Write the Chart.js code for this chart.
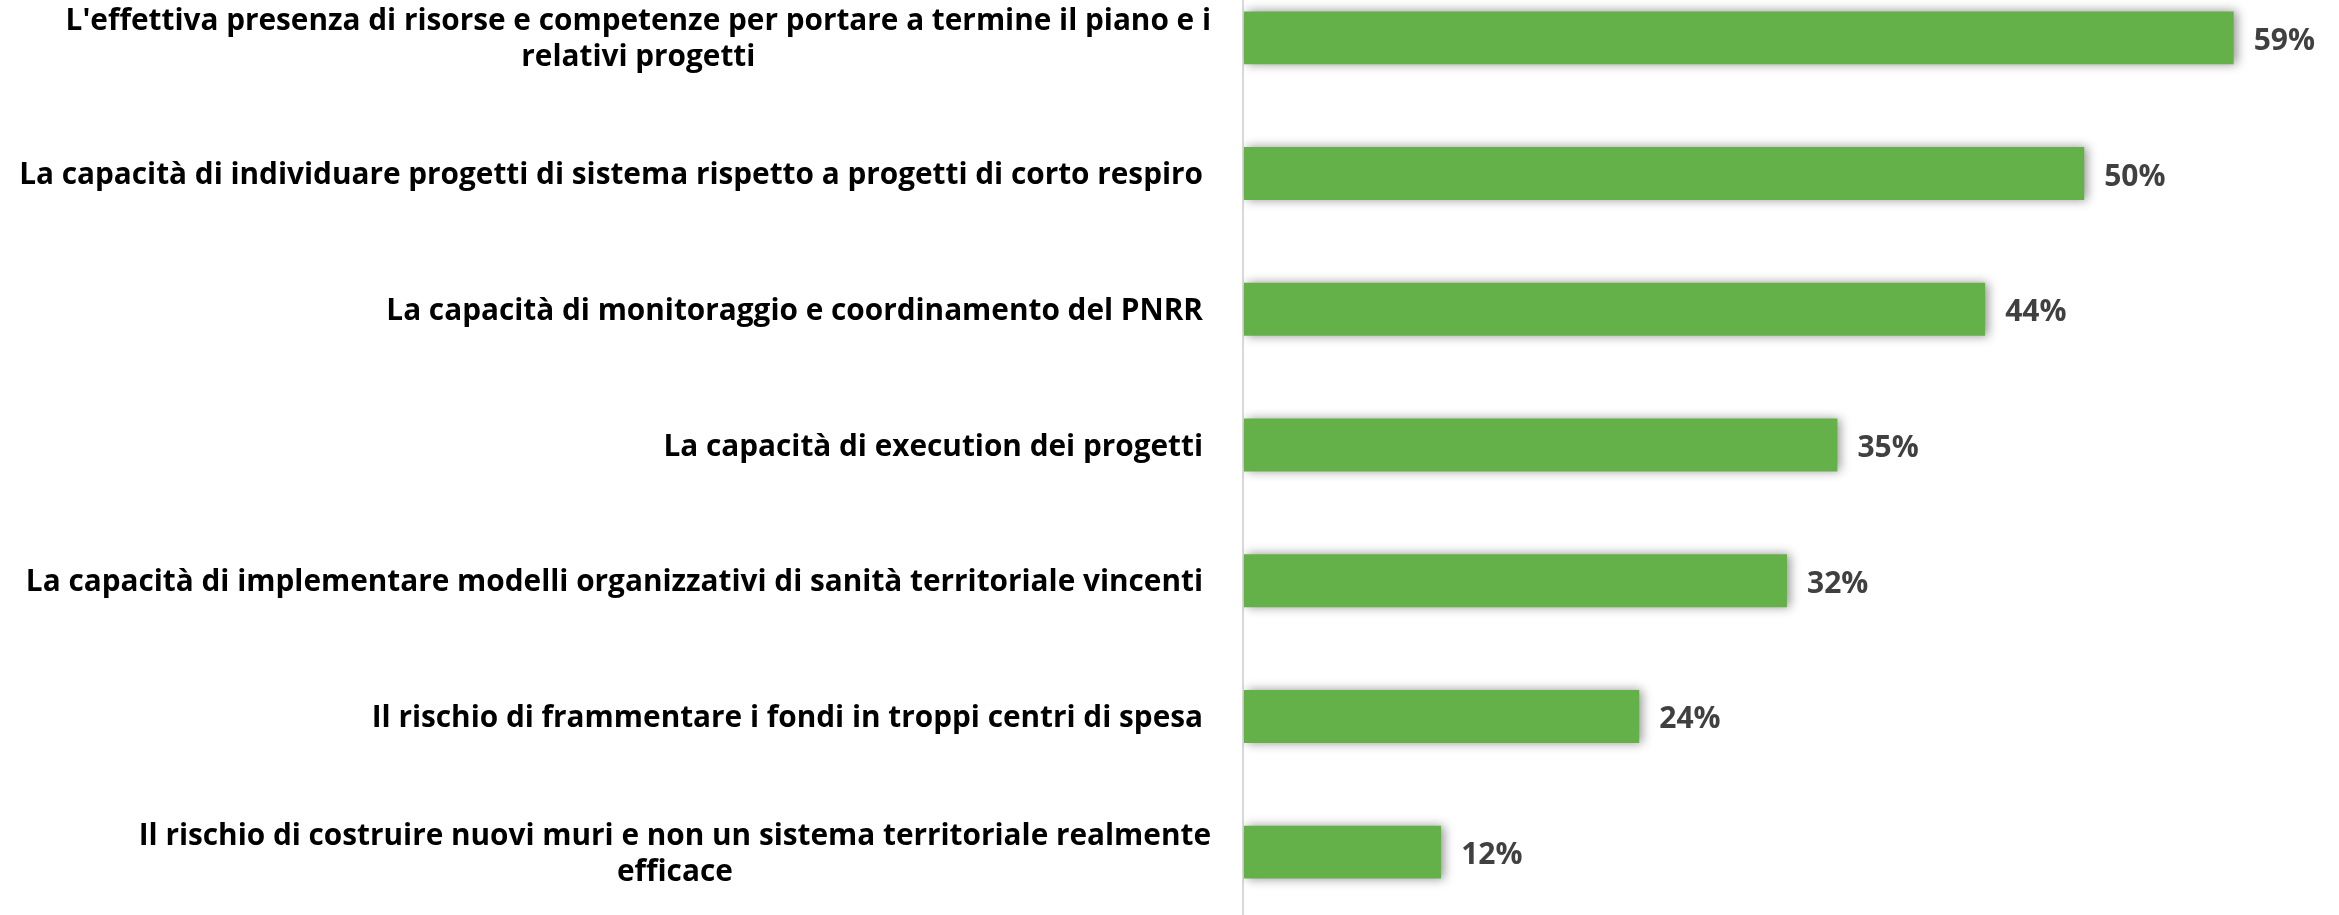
<!DOCTYPE html>
<html><head><meta charset="utf-8">
<script src="https://cdn.jsdelivr.net/npm/chart.js@4.4.1/dist/chart.umd.min.js"></script>
<style>
html,body{margin:0;padding:0;background:#fff;overflow:hidden;width:2339px;height:915px;}
#wrap{position:absolute;left:0;top:-30px;width:2339px;height:950px;}
</style></head><body>
<div id="wrap"><canvas id="c"></canvas></div>
<script>
const categories = [
  ["L'effettiva presenza di risorse e competenze per portare a termine il piano e i", "relativi progetti"],
  ["La capacità di individuare progetti di sistema rispetto a progetti di corto respiro"],
  ["La capacità di monitoraggio e coordinamento del PNRR"],
  ["La capacità di execution dei progetti"],
  ["La capacità di implementare modelli organizzativi di sanità territoriale vincenti"],
  ["Il rischio di frammentare i fondi in troppi centri di spesa"],
  ["Il rischio di costruire nuovi muri e non un sistema territoriale realmente", "efficace"]
];
const values = [59.0, 50.1, 44.2, 35.4, 32.4, 23.6, 11.8];
const valueLabels = ["59%", "50%", "44%", "35%", "32%", "24%", "12%"];

const FONT = '"Open Sans", "Lato", sans-serif';

const shadowPlugin = {
  id: 'barShadow',
  beforeDatasetsDraw(chart) {
    const ctx = chart.ctx;
    ctx.save();
    ctx.shadowColor = 'rgba(0,0,0,0.42)';
    ctx.shadowBlur = 10;
    ctx.shadowOffsetX = 3;
    ctx.shadowOffsetY = 0;
  },
  afterDatasetsDraw(chart) {
    chart.ctx.restore();
  }
};

let catSize = 29;
const labelPlugin = {
  id: 'labels',
  afterDraw(chart) {
    const ctx = chart.ctx;
    const yScale = chart.scales.y;
    const area = chart.chartArea;
    ctx.save();
    ctx.fillStyle = '#000000';
    ctx.font = `bold ${catSize}px ${FONT}`;
    ctx.textBaseline = 'alphabetic';
    ctx.textAlign = 'center';
    const capH = catSize * 0.714;
    const lineH = 36;
    categories.forEach((lines, i) => {
      const cy = yScale.getPixelForValue(i);
      const maxW = Math.max(...lines.map(l => ctx.measureText(l).width));
      const right = area.left - 40 + (lines.length > 1 ? 8 : 0);
      const cx = right - maxW / 2;
      const n = lines.length;
      lines.forEach((l, j) => {
        const by = cy + (j - (n - 1) / 2) * lineH + capH / 2;
        ctx.fillText(l, cx, by);
      });
    });
    const meta = chart.getDatasetMeta(0);
    ctx.fillStyle = '#404040';
    ctx.font = `bold 30px ${FONT}`;
    ctx.textAlign = 'left';
    meta.data.forEach((bar, i) => {
      ctx.fillText(valueLabels[i], bar.x + 20, bar.y + 12);
    });
    ctx.restore();
  }
};

function build() {
  const m = document.createElement('canvas').getContext('2d');
  m.font = `bold 29px ${FONT}`;
  const w = m.measureText(categories[1][0]).width;
  catSize = Math.max(22, Math.min(32, 29 * 1184 / w));

  new Chart(document.getElementById('c'), {
    type: 'bar',
    data: {
      labels: categories,
      datasets: [{
        data: values,
        backgroundColor: '#64B14A',
        borderWidth: 0,
        categoryPercentage: 1,
        barPercentage: 0.39
      }]
    },
    options: {
      indexAxis: 'y',
      responsive: true,
      maintainAspectRatio: false,
      animation: false,
      devicePixelRatio: 1,
      layout: { padding: { left: 1243, right: 4.6, top: 0, bottom: 0 } },
      plugins: { legend: { display: false }, tooltip: { enabled: false } },
      scales: {
        x: {
          display: true,
          min: 0, max: 65,
          ticks: { display: false, stepSize: 5 },
          border: { display: false },
          grid: {
            drawTicks: false,
            lineWidth: 2,
            color: c => (c.tick && c.tick.value === 0) ? '#d9d9d9' : 'rgba(0,0,0,0)'
          },
          afterFit: s => { s.height = 0; }
        },
        y: {
          display: false,
          offset: true
        }
      }
    },
    plugins: [shadowPlugin, labelPlugin]
  });
}

if (document.fonts && document.fonts.load) {
  document.fonts.load(`bold 29px "Open Sans"`).then(build, build);
} else {
  build();
}
</script>
</body></html>
